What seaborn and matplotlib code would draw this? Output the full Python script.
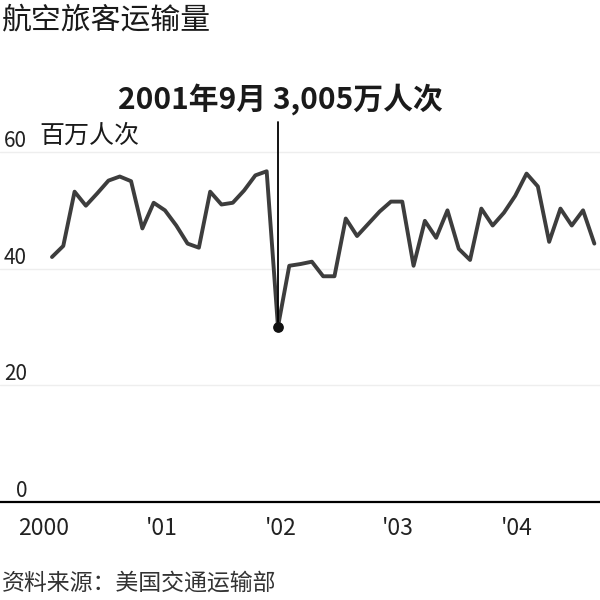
import pandas as pd
import numpy as np
from matplotlib import pyplot as plt
from matplotlib import transforms
import seaborn as sns

# monthly passengers (millions), Jan 2000 - Jan 2004
passengers = [42.0, 43.9, 53.2, 50.8, 52.9, 55.1, 55.8, 55.0, 46.9, 51.3,
              50.0, 47.4, 44.3, 43.6, 53.2, 51.0, 51.3, 53.4, 56.0, 56.7,
              30.05, 40.5, 40.8, 41.2, 38.7, 38.7, 48.6, 45.6, 47.7, 49.8,
              51.5, 51.5, 40.5, 48.2, 45.3, 50.0, 43.4, 41.5, 50.3, 47.4,
              49.6, 52.5, 56.3, 54.1, 44.6, 50.3, 47.4, 50.0, 44.3]
low_index = 20
low_label = '2001年9月 3,005万人次'
year_ticks = [-0.7, 9.7, 20.25, 30.6, 41.15]
year_labels = ['2000', "'01", "'02", "'03", "'04"]
y_ticks = [0, 20, 40, 60]
unit_label = '百万人次'
title = '航空旅客运输量'
source = '资料来源：美国交通运输部'

sns.set_theme(style='white')
plt.rcParams['font.family'] = ['Noto Sans CJK SC', 'DejaVu Sans']

df = pd.DataFrame({'month': np.arange(len(passengers)), 'passengers': passengers})

fig = plt.figure(figsize=(6, 6), dpi=100)
ax = fig.add_axes([0, 0.1633, 1, 0.70])

ax.set_yticks(y_ticks)
ax.grid(axis='y', color='#eeeeee', linewidth=1)
ax.set_axisbelow(True)

sns.lineplot(data=df, x='month', y='passengers', color='#3d3d3d', linewidth=2.8,
             ax=ax, solid_joinstyle='round', solid_capstyle='round')

# September 2001 marker and callout
ax.plot([low_index, low_index], [passengers[low_index], 65.2], color='black', linewidth=1.3)
ax.scatter([low_index], [passengers[low_index]], color='#111111', s=45, zorder=5)
ax.text(low_index + 0.2, 66.4, low_label, ha='center', va='bottom', fontsize=21.5,
        fontweight='bold', color='#1a1a1a')

ax.set_xlim(-4.6, 48.5)
ax.set_ylim(0, 72)

ax.set_xticks(year_ticks)
ax.set_xticklabels(year_labels, fontsize=16.5, color='#222222')
ax.tick_params(axis='x', direction='out', length=5, width=1.3, color='black', pad=6)
ax.set_yticklabels([str(v) for v in y_ticks], fontsize=15, color='#222222')
ax.tick_params(axis='y', length=0, pad=-19.5)
for lab in ax.get_yticklabels():
    lab.set_verticalalignment('bottom')

trans = transforms.blended_transform_factory(ax.transAxes, ax.transData)
ax.text(0.065, 60.6, unit_label, transform=trans, ha='left', va='bottom',
        fontsize=18, fontweight='medium', color='#1a1a1a')

for side in ['left', 'right', 'top']:
    ax.spines[side].set_visible(False)
ax.spines['bottom'].set_color('black')
ax.spines['bottom'].set_linewidth(1.6)
ax.set_xlabel('')
ax.set_ylabel('')

fig.text(0.003, 0.967, title, ha='left', va='center', fontsize=21.5, fontweight='medium',
         color='#1a1a1a')
fig.text(0.003, 0.028, source, ha='left', va='center', fontsize=16.5, color='#333333')

fig.savefig('out.png', dpi=100, facecolor='white')
